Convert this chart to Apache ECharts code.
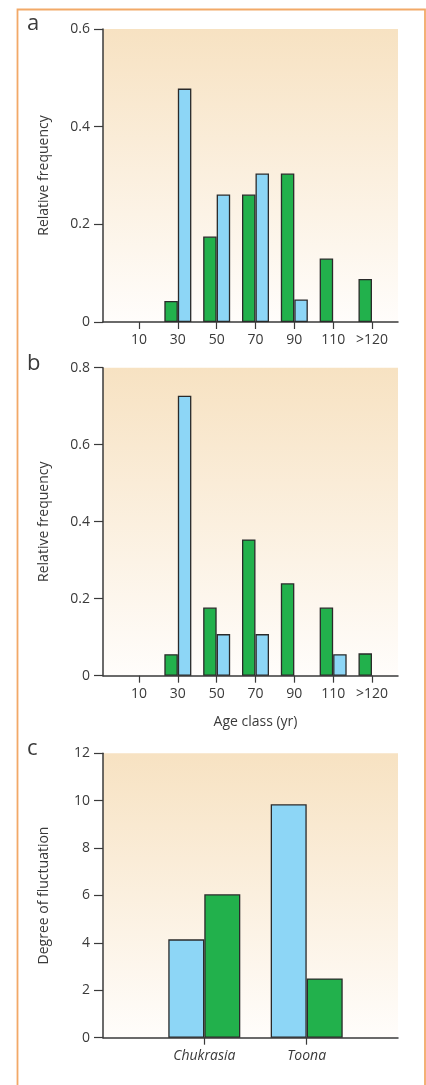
<!DOCTYPE html>
<html>
<head>
<meta charset="utf-8">
<script src="https://cdn.jsdelivr.net/npm/echarts@6/dist/echarts.min.js"></script>
<style>
html,body{margin:0;padding:0;background:#fff;}
#chart{width:426px;height:1085px;}
</style>
</head>
<body>
<div id="chart"></div>
<script>
// ---- data ----
var ageCategories = ['10', '30', '50', '70', '90', '110', '>120'];
var aGreen = [null, 0.043, 0.175, 0.261, 0.304, 0.130, 0.088];
var aBlue  = [null, 0.478, 0.261, 0.304, 0.046, null, null];
var bGreen = [null, 0.056, 0.177, 0.354, 0.240, 0.177, 0.058];
var bBlue  = [null, 0.727, 0.108, 0.108, null, 0.056, null];
var speciesCategories = ['Chukrasia', 'Toona'];
var cBlue  = [4.15, 9.85];
var cGreen = [6.05, 2.5];
var aTicks = [0, 0.6, 0.2];
var bTicks = [0, 0.8, 0.2];
var cTicks = [0, 12, 2];

var FONT = 'Open Sans';
var TXT = '#3a3a3a';
var GREEN = '#22b14c';
var BLUE = '#8dd6f6';
var EDGE = '#2a2a2a';

var chart = echarts.init(document.getElementById('chart'), null, {renderer: 'canvas'});

function bg() {
  return new echarts.graphic.LinearGradient(0, 0, 0, 1, [
    {offset: 0, color: '#f7e2c2'},
    {offset: 1, color: '#fffdfb'}
  ]);
}

function gridA(top, height) {
  return {left: 103, right: 28, top: top, height: height, show: true, backgroundColor: bg(), borderWidth: 0, containLabel: false};
}
function gridB(left, right, top, height) {
  return {left: left, right: right, top: top, height: height, show: false, containLabel: false};
}

function xA(gi) {
  return {type: 'value', gridIndex: gi, min: 0, max: 1, axisLine: {show: true, onZero: false, lineStyle: {color: TXT, width: 1.5}},
    axisTick: {show: false}, axisLabel: {show: false}, splitLine: {show: false}};
}
function xB(gi, cats, italic, name) {
  var o = {type: 'category', gridIndex: gi, data: cats, boundaryGap: true,
    axisLine: {show: false}, axisTick: {show: true, alignWithLabel: true, interval: 0, length: 7, lineStyle: {color: TXT, width: 1.2}},
    axisLabel: {interval: 0, hideOverlap: false, margin: 11, fontFamily: FONT, fontSize: 14, color: TXT, fontStyle: italic ? 'italic' : 'normal'},
    splitLine: {show: false}};
  if (name) {
    o.name = name; o.nameLocation = 'middle'; o.nameGap = 39;
    o.nameTextStyle = {fontFamily: FONT, fontSize: 14, color: TXT};
  }
  return o;
}
function yA(gi, t, name) {
  return {type: 'value', gridIndex: gi, min: t[0], max: t[1], interval: t[2],
    axisLine: {show: true, onZero: false, lineStyle: {color: TXT, width: 1.5}},
    axisTick: {show: true, length: 9, lineStyle: {color: TXT, width: 1.2}},
    axisLabel: {margin: 13, fontFamily: FONT, fontSize: 14, color: TXT},
    splitLine: {show: false},
    name: name, nameLocation: 'middle', nameGap: 52, nameRotate: 90,
    nameTextStyle: {fontFamily: FONT, fontSize: 14, color: TXT}};
}
function yB(gi, t) {
  return {type: 'value', gridIndex: gi, min: t[0], max: t[1], interval: t[2], show: false,
    splitLine: {show: false}};
}
function bar(name, data, color, axis, w) {
  return {type: 'bar', name: name, data: data, xAxisIndex: axis, yAxisIndex: axis,
    barWidth: w, barGap: '0%',
    itemStyle: {color: color, borderColor: EDGE, borderWidth: 1.3}};
}

var option = {
  animation: false,
  backgroundColor: '#ffffff',
  grid: [
    gridA(29, 293), gridB(119.6, 34.6, 29, 293),
    gridA(367.7, 308), gridB(119.6, 34.6, 367.7, 308),
    gridA(753.3, 284.4), gridB(153.1, 68.1, 753.3, 284.4)
  ],
  xAxis: [
    xA(0), xB(1, ageCategories, false),
    xA(2), xB(3, ageCategories, false, 'Age class (yr)'),
    xA(4), xB(5, speciesCategories, true)
  ],
  yAxis: [
    yA(0, aTicks, 'Relative frequency'), yB(1, aTicks),
    yA(2, bTicks, 'Relative frequency'), yB(3, bTicks),
    yA(4, cTicks, 'Degree of fluctuation'), yB(5, cTicks)
  ],
  series: [
    bar('a green', aGreen, GREEN, 1, 13.5),
    bar('a blue', aBlue, BLUE, 1, 13.5),
    bar('b green', bGreen, GREEN, 3, 13.5),
    bar('b blue', bBlue, BLUE, 3, 13.5),
    bar('c blue', cBlue, BLUE, 5, 36),
    bar('c green', cGreen, GREEN, 5, 36)
  ],
  title: [
    {text: 'a', left: 27, top: 13, padding: 0, textStyle: {fontFamily: FONT, fontSize: 22, fontWeight: 'normal', color: TXT}},
    {text: 'b', left: 27, top: 353, padding: 0, textStyle: {fontFamily: FONT, fontSize: 22, fontWeight: 'normal', color: TXT}},
    {text: 'c', left: 27, top: 738, padding: 0, textStyle: {fontFamily: FONT, fontSize: 22, fontWeight: 'normal', color: TXT}}
  ],
  graphic: [
    {type: 'rect', left: 15, top: 7, silent: true, z: -1,
      shape: {x: 0, y: 0, width: 407.5, height: 1100},
      style: {fill: null, stroke: '#f2a968', lineWidth: 1.8}}
  ]
};
chart.setOption(option);
</script>
</body>
</html>
